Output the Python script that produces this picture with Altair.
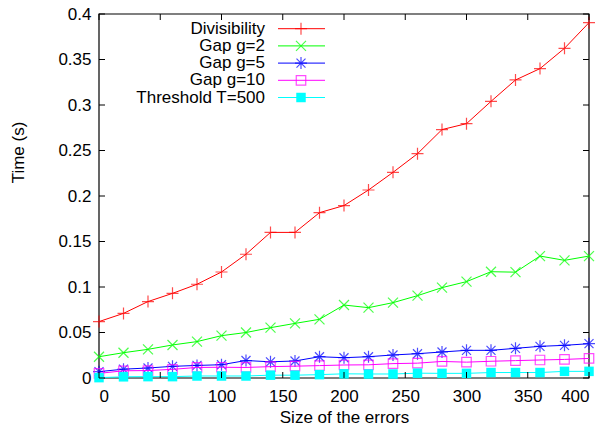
import altair as alt
import pandas as pd

# ---- data ----
x_vals = list(range(0, 401, 20))
divisibility = [0.062, 0.071, 0.084, 0.093, 0.103, 0.1165, 0.136, 0.160, 0.160, 0.1817, 0.1895,
                0.2066, 0.226, 0.2465, 0.273, 0.2795, 0.304, 0.3275, 0.340, 0.3623, 0.3905]
gap2 = [0.0234, 0.0278, 0.0315, 0.0363, 0.040, 0.0465, 0.050, 0.0553, 0.060, 0.0645, 0.0802,
        0.0773, 0.0828, 0.0905, 0.0993, 0.1059, 0.1168, 0.1163, 0.134, 0.1293, 0.134]
gap5 = [0.007, 0.0097, 0.011, 0.0128, 0.0138, 0.0146, 0.0192, 0.0178, 0.0187, 0.0234, 0.0223,
        0.0234, 0.0253, 0.0267, 0.0286, 0.0304, 0.0304, 0.0326, 0.0348, 0.0359, 0.0377]
gap10 = [0.0051, 0.0079, 0.0082, 0.0095, 0.0116, 0.0118, 0.0116, 0.0125, 0.013, 0.0136, 0.0143,
         0.0145, 0.0158, 0.0163, 0.0182, 0.0174, 0.0184, 0.0191, 0.0198, 0.0204, 0.0215]
threshold = [0.0004, 0.0013, 0.0015, 0.0015, 0.0022, 0.0022, 0.0022, 0.0031, 0.0031, 0.0037, 0.0046,
             0.0044, 0.0044, 0.0053, 0.0051, 0.0051, 0.006, 0.006, 0.006, 0.0073, 0.0073]

series_names = ["Divisibility", "Gap g=2", "Gap g=5", "Gap g=10", "Threshold T=500"]
series_values = [divisibility, gap2, gap5, gap10, threshold]
series_colors = ["#ff0000", "#00ff00", "#0000ff", "#ff00ff", "#00ffff"]

x_ticks = [0, 50, 100, 150, 200, 250, 300, 350, 400]
y_ticks = [0, 0.05, 0.1, 0.15, 0.2, 0.25, 0.3, 0.35, 0.4]

# ---- styling ----
W, H = 490, 364
FONT = "Liberation Sans"
FS = 17
TICK = 6

PLUS = "M-1,0L1,0M0,-1L0,1"
XSHAPE = "M-1,-1L1,1M-1,1L1,-1"
STAR = "M-1,0L1,0M0,-1L0,1M-0.75,-0.75L0.75,0.75M-0.75,0.75L0.75,-0.75"
markers = [
    dict(shape=PLUS, size=144, filled=False, strokeWidth=1.2),
    dict(shape=XSHAPE, size=100, filled=False, strokeWidth=1.2),
    dict(shape=STAR, size=144, filled=False, strokeWidth=1.2),
    dict(shape="square", size=90, filled=False, strokeWidth=1.2),
    dict(shape="square", size=90, filled=True, strokeWidth=0, opacity=1),
]

xscale = alt.Scale(domain=[0, 400], nice=False, zero=False)
yscale = alt.Scale(domain=[0, 0.4], nice=False, zero=False)

x_axis = alt.Axis(values=x_ticks, ticks=False, domain=False, grid=False, labelPadding=10,
                  title="Size of the errors", titleY=44.5, titleBaseline="alphabetic",
                  labelFont=FONT, labelFontSize=FS, labelColor="black",
                  titleFont=FONT, titleFontSize=FS, titleColor="black", titleFontWeight="normal")
y_axis = alt.Axis(values=y_ticks, ticks=False, domain=False, grid=False, labelPadding=8,
                  format=".2~f", title="Time (s)", titleX=-81, titleY=138, titleAngle=270,
                  titleAlign="center", titleBaseline="middle",
                  labelFont=FONT, labelFontSize=FS, labelColor="black",
                  titleFont=FONT, titleFontSize=FS, titleColor="black", titleFontWeight="normal")


def X(field):
    return alt.X(field, scale=xscale, axis=x_axis)


def Y(field):
    return alt.Y(field, scale=yscale, axis=y_axis)


layers = []

# ---- plot border ----
border = alt.Chart(pd.DataFrame({"b": [0]})).mark_rect(
    fill=None, stroke="black", strokeWidth=1.2).encode(
    x=alt.value(0), x2=alt.value(W), y=alt.value(0), y2=alt.value(H))
layers.append(border)

for i, (name, vals, col) in enumerate(zip(series_names, series_values, series_colors)):
    df = pd.DataFrame({"x": x_vals, "y": vals, "series": name})
    base = alt.Chart(df)
    layers.append(base.mark_line(color=col, strokeWidth=1, clip=False).encode(x=X("x:Q"), y=Y("y:Q")))
    layers.append(base.mark_point(color=col, clip=False, **markers[i]).encode(x=X("x:Q"), y=Y("y:Q")))

# ---- inward ticks on all four sides ----
xt = pd.DataFrame({"x": x_ticks})
yt = pd.DataFrame({"y": y_ticks})
tick_style = dict(color="black", strokeWidth=1)
layers.append(alt.Chart(xt).mark_rule(**tick_style).encode(
    x=X("x:Q"), y=alt.value(H), y2=alt.value(H - TICK)))
layers.append(alt.Chart(xt).mark_rule(**tick_style).encode(
    x=X("x:Q"), y=alt.value(0), y2=alt.value(TICK)))
layers.append(alt.Chart(yt).mark_rule(**tick_style).encode(
    y=Y("y:Q"), x=alt.value(0), x2=alt.value(TICK)))
layers.append(alt.Chart(yt).mark_rule(**tick_style).encode(
    y=Y("y:Q"), x=alt.value(W), x2=alt.value(W - TICK)))

# ---- gnuplot-style key (top left) ----
KEY_TEXT_X = 166
KEY_LINE_X1, KEY_LINE_X2 = 179, 226
KEY_MARK_X = 202
KEY_Y0, KEY_DY = 14.7, 17.2
for i, (name, col) in enumerate(zip(series_names, series_colors)):
    kd = pd.DataFrame({"label": [name]})
    ky = KEY_Y0 + i * KEY_DY
    kc = alt.Chart(kd)
    layers.append(kc.mark_text(align="right", baseline="middle", font=FONT, fontSize=FS,
                               color="black").encode(
        text="label:N", x=alt.value(KEY_TEXT_X), y=alt.value(ky)))
    layers.append(kc.mark_rule(color=col, strokeWidth=1).encode(
        x=alt.value(KEY_LINE_X1), x2=alt.value(KEY_LINE_X2), y=alt.value(ky)))
    layers.append(kc.mark_point(color=col, **markers[i]).encode(
        x=alt.value(KEY_MARK_X), y=alt.value(ky)))

chart = alt.layer(*layers).properties(
    width=W, height=H,
    autosize=alt.AutoSizeParams(type="none"),
    padding={"left": 91, "top": 6, "right": 9, "bottom": 48},
    background="white",
).configure_view(stroke=None)

chart.save("out.html", embed_options={"renderer": "svg", "actions": False})
